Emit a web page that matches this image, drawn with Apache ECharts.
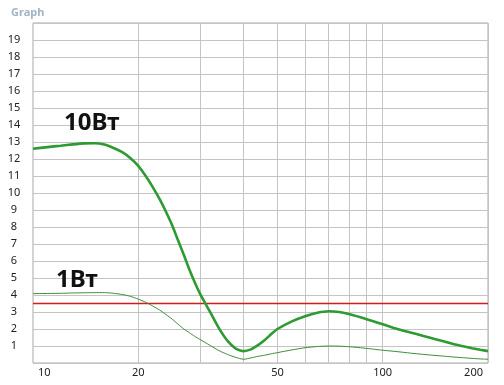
<!DOCTYPE html>
<html>
<head>
<meta charset="utf-8">
<script src="https://cdn.jsdelivr.net/npm/echarts@6/dist/echarts.min.js"></script>
<style>html,body{margin:0;padding:0;background:#fff}#c{width:504px;height:385px}</style>
</head>
<body>
<div id="c"></div>
<script>
// Data
const freq10W = [10, 11, 12, 13, 14, 15, 16, 17, 18, 19, 20, 21, 22, 23, 24, 25, 26, 27, 28, 29, 30, 32, 34, 36, 38, 40, 42, 44, 46, 48, 50, 55, 60, 65, 70, 75, 80, 90, 100, 110, 120, 130, 140, 150, 160, 170, 180, 190, 200];
const val10W  = [12.6, 12.7, 12.78, 12.86, 12.92, 12.93, 12.85, 12.65, 12.4, 12.05, 11.6, 11.0, 10.35, 9.65, 8.9, 8.1, 7.2, 6.35, 5.5, 4.75, 4.1, 3.05, 2.05, 1.3, 0.85, 0.7, 0.8, 1.05, 1.35, 1.7, 2.0, 2.45, 2.75, 2.95, 3.04, 3.0, 2.88, 2.58, 2.28, 2.0, 1.8, 1.6, 1.42, 1.27, 1.1, 0.98, 0.87, 0.78, 0.7];
const freq1W  = [10, 11, 12, 13, 14, 15, 16, 17, 18, 19, 20, 21, 22, 23, 24, 25, 26, 27, 28, 29, 30, 32, 34, 36, 38, 40, 42, 44, 46, 48, 50, 55, 60, 65, 70, 75, 80, 90, 100, 110, 120, 130, 140, 150, 160, 170, 180, 190, 200];
const val1W   = [4.08, 4.09, 4.1, 4.12, 4.13, 4.14, 4.14, 4.1, 4.03, 3.92, 3.76, 3.57, 3.35, 3.12, 2.85, 2.58, 2.28, 2.0, 1.78, 1.57, 1.39, 1.05, 0.73, 0.5, 0.33, 0.22, 0.3, 0.39, 0.46, 0.54, 0.61, 0.77, 0.9, 0.97, 1.0, 0.99, 0.96, 0.86, 0.75, 0.67, 0.58, 0.51, 0.45, 0.4, 0.35, 0.31, 0.27, 0.24, 0.22];
const thresholdFreq = [10, 200];
const thresholdVal = [3.5, 3.5];
const xLabels = [10, 20, 50, 100, 200];
const xGrid = [20, 30, 40, 50, 60, 70, 80, 90, 100, 200];
const yLabels = [1,2,3,4,5,6,7,8,9,10,11,12,13,14,15,16,17,18,19];
const title = 'Graph';
const label10W = '10Вт';
const label1W = '1Вт';

const zip = (a, b) => a.map((x, i) => [x, b[i]]);
const chart = echarts.init(document.getElementById('c'));
const FONT = '"Noto Sans", "DejaVu Sans", sans-serif';
chart.setOption({
  animation: false,
  backgroundColor: '#fff',
  color: ['#d41a1a', '#2e9a32', '#3a8e3a'],
  title: {
    text: title, left: 6, top: 2,
    textStyle: {fontSize: 11, fontWeight: 'bold', color: '#a3b3c6', fontFamily: FONT}
  },
  grid: {left: 33, top: 23, right: 16, bottom: 22, show: true, borderColor: '#a8a8a8', borderWidth: 1},
  xAxis: {
    type: 'log', logBase: 10, min: 10, max: 200,
    axisLine: {show: false},
    axisTick: {show: false, customValues: xGrid},
    splitLine: {show: true, lineStyle: {color: '#c4c4c4', width: 1}},
    axisLabel: {
      customValues: xLabels, margin: 4, color: '#222', fontSize: 11, fontFamily: FONT,
      alignMinLabel: 'left', alignMaxLabel: 'right',
      formatter: v => {
        const r = Math.round(v);
        if (r === xLabels[0]) return '{l|' + r + '}';
        if (r === xLabels[xLabels.length - 1]) return '{r|' + r + '}';
        return '' + r;
      },
      rich: {
        l: {padding: [0, 0, 0, 5], fontSize: 11, color: '#222', fontFamily: FONT},
        r: {padding: [0, 5, 0, 0], fontSize: 11, color: '#222', fontFamily: FONT}
      }
    }
  },
  yAxis: {
    type: 'value', min: 0, max: 20, interval: 1,
    axisLine: {show: false}, axisTick: {show: false},
    splitLine: {show: true, lineStyle: {color: '#c4c4c4', width: 1}},
    axisLabel: {
      customValues: yLabels, margin: 19, align: 'center',
      color: '#222', fontSize: 11, fontFamily: FONT
    }
  },
  series: [
    {
      type: 'line', data: zip(thresholdFreq, thresholdVal), symbol: 'none', silent: true, z: 1,
      lineStyle: {color: '#d41a1a', width: 1.5, opacity: 1}, itemStyle: {color: '#d41a1a'}
    },
    {
      type: 'line', data: zip(freq10W, val10W), smooth: 0.2, symbol: 'none', z: 3,
      lineStyle: {color: '#2e9a32', width: 2.6}, itemStyle: {color: '#2e9a32'}
    },
    {
      type: 'line', data: zip(freq1W, val1W), smooth: 0.2, symbol: 'none', z: 2,
      lineStyle: {color: '#3a8e3a', width: 1}, itemStyle: {color: '#3a8e3a'}
    }
  ],
  graphic: [
    {type: 'text', z: 100, left: 64, top: 111, style: {text: label10W, font: 'bold 24px ' + FONT, fill: '#111'}},
    {type: 'text', z: 100, left: 56, top: 268, style: {text: label1W, font: 'bold 24px ' + FONT, fill: '#111'}}
  ]
});
</script>
</body>
</html>
